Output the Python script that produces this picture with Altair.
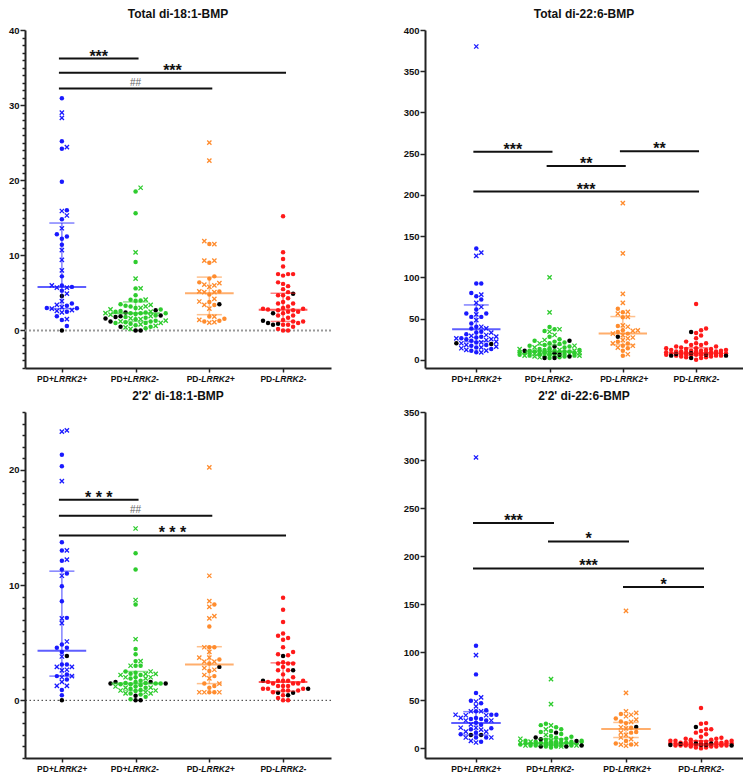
import altair as alt
import pandas as pd
import numpy as np

GROUPS = ["PD+LRRK2+", "PD+LRRK2-", "PD-LRRK2+", "PD-LRRK2-"]
COLORS = ["#1a1aff", "#2ecc2e", "#ff8c2e", "#ff1a1a"]
TITLES = ["Total di-18:1-BMP", "Total di-22:6-BMP", "2'2' di-18:1-BMP", "2'2' di-22:6-BMP"]

# ---------------- Panel 1: Total di-18:1-BMP ----------------
T18_DOTS = [
    [30.9, 25.2, 24.2, 19.8, 16.0, 14.8, 12.8, 12.5, 12.2, 11.4, 7.2, 6.0, 5.8, 5.3, 3.6, 3.3, 3.0, 2.95, 2.5, 1.9, 1.4, 0.6],
    [18.5, 15.6, 9.1, 5.6, 4.7, 4.1, 4.0, 3.95, 3.5, 3.3, 3.2, 3.0, 2.8, 2.6, 2.5, 2.4, 2.3, 2.3, 2.3, 2.2, 2.0, 1.8, 1.7, 1.5,
     1.3, 1.2, 1.1, 1.0, 1.0, 0.9, 0.7, 0.5, 0.3],
    [11.5, 9.0, 7.2, 6.9, 6.4, 5.2, 4.8, 3.8, 3.4, 1.85, 1.55, 1.3, 1.2],
    [15.2, 10.4, 9.5, 8.5, 7.5, 7.5, 7.5, 7.3, 6.4, 6.2, 5.9, 5.5, 5.1, 4.7, 4.7, 4.3, 3.8, 3.6, 3.6, 3.2, 3.0, 2.9, 2.9,
     2.8, 2.7, 2.7, 2.5, 2.5, 2.3, 2.0, 2.0, 1.7, 1.4, 1.2, 1.2, 1.0, 0.75, 0.75, 0.5, 0.2, 0.0, 0.0],
]
T18_CROSSES = [
    [29.0, 28.3, 24.4, 15.9, 15.3, 13.6, 10.7, 9.4, 8.0, 6.0, 5.7, 5.7, 4.9, 3.9, 3.4, 3.1, 2.9, 2.7, 2.6, 2.4, 1.5],
    [19.0, 10.4, 6.9, 5.6, 4.1, 3.4, 3.2, 3.0, 2.8, 2.5, 2.3, 2.1, 1.9, 1.6, 1.5, 1.3, 1.2, 1.0, 0.8, 0.6, 0.4, 0.2],
    [25.0, 22.6, 11.9, 11.5, 9.3, 9.3, 6.3, 6.1, 6.0, 5.8, 5.2, 5.1, 5.1, 4.2, 3.85, 3.4, 2.9, 1.85, 1.4, 1.1, 1.05],
    [],
]
T18_BLACK = [[4.6, 0.0], [2.7, 2.4, 2.0, 1.9, 1.8, 1.6, 1.2, 0.5, 0.0, 0.0], [3.5], [4.9, 2.3, 1.3, 1.0, 0.75, 0.9]]
T18_MEDIAN = [5.8, 2.3, 4.95, 2.75]
T18_Q1 = [2.9, 1.2, 2.1, 1.2]
T18_Q3 = [14.3, 3.8, 7.1, 4.95]
T18_SIG_FROM = [0, 0, 0]
T18_SIG_TO = [1, 3, 2]
T18_SIG_LEVEL = [36.2, 34.3, 32.2]
T18_SIG_LABEL = ["***", "***", "##"]

# ---------------- Panel 2: Total di-22:6-BMP ----------------
T22_DOTS = [
    [135, 92.5, 92.5, 81, 77, 73, 61, 56, 56, 52, 52, 44, 40, 38, 34, 33, 31, 28, 27, 26, 25, 23, 21, 18, 17, 15, 13, 11, 9],
    [39.7, 37, 35, 28, 25, 23, 22, 21, 20, 19, 18, 17, 16, 15, 14, 13, 12, 12, 11, 11, 10, 10, 10, 9, 9, 9, 8, 8, 8, 7,
     7, 6, 6, 5, 5, 4, 3, 2],
    [62, 57.5, 51.6, 41, 35.7, 33.7, 31.7, 21.8, 19.8, 17, 13.9, 11, 4.8],
    [67.5, 38, 35.7, 32.5, 29.4, 26.2, 22, 20, 20, 18, 18, 16, 16, 15, 14, 14, 13, 13, 12, 12, 12, 11, 11, 11, 10, 10, 10,
     10, 9, 9, 9, 9, 8, 8, 8, 8, 8, 7, 7, 7, 7, 6, 6, 6, 6, 5, 5, 5, 4, 4, 3, 3, 2, 0],
]
T22_CROSSES = [
    [380, 130, 126, 79, 69, 64, 55, 48, 40, 38, 33, 30, 29, 28, 26, 25, 24, 22, 21, 20, 18, 16, 15, 14, 12, 11, 9],
    [100, 57.5, 37, 34, 30, 24, 20, 17, 15, 13, 12, 11, 10, 9, 8, 8, 7, 7, 6, 6, 5, 5, 4, 3],
    [190, 129, 80, 69, 58, 56, 52, 41.7, 40, 35.7, 35, 31.7, 29.8, 27, 26, 23.8, 19.8, 17, 14.7, 6.7],
    [],
]
T22_BLACK = [[20, 19], [23, 16, 11, 8, 6, 4, 2, 2], [27.8], [33.7, 8, 7, 6, 5, 5, 2]]
T22_MEDIAN = [37, 10, 31.7, 8]
T22_Q1 = [22, 6, 18.3, 5.5]
T22_Q3 = [66.5, 18, 52.4, 14.5]
T22_SIG_FROM = [0, 1, 2, 0]
T22_SIG_TO = [1, 2, 3, 3]
T22_SIG_LEVEL = [252.4, 235, 253, 204]
T22_SIG_LABEL = ["***", "**", "**", "***"]

# ---------------- Panel 3: 2'2' di-18:1-BMP ----------------
S18_DOTS = [
    [21.3, 20.3, 13.7, 13.0, 12.1, 11.35, 11.0, 9.9, 8.6, 7.15, 4.85, 4.55, 4.55, 4.2, 3.1, 3.1, 2.25, 2.1, 1.8, 0.9, 0.45],
    [12.75, 11.35, 8.3, 4.45, 4.0, 3.4, 3.0, 3.0, 2.5, 2.4, 2.3, 2.2, 2.0, 1.9, 1.7, 1.6, 1.5, 1.5, 1.45, 1.45, 1.4, 1.4,
     1.3, 1.2, 1.1, 1.0, 0.9, 0.8, 0.6, 0.5, 0.3, 0.1],
    [8.3, 6.4, 4.6, 4.6, 3.55, 3.2, 2.55, 2.1, 1.45, 1.25, 1.1, 0.7, 0.7],
    [8.9, 7.85, 6.8, 5.8, 5.6, 5.4, 5.25, 4.6, 4.2, 4.0, 3.9, 3.3, 3.2, 3.2, 3.2, 2.9, 2.6, 2.6, 2.25, 2.0, 1.7, 1.7,
     1.7, 1.7, 1.6, 1.45, 1.45, 1.45, 1.25, 1.25, 1.25, 1.0, 1.0, 1.0, 0.85, 0.85, 0.85, 0.7, 0.45, 0.2, 0.0, 0.0],
]
S18_CROSSES = [
    [23.3, 23.4, 19.0, 13.0, 12.2, 10.8, 7.1, 6.7, 5.1, 3.8, 2.9, 2.9, 2.65, 2.6, 2.1, 2.0, 1.6, 1.25, 1.25],
    [14.9, 8.7, 5.3, 3.4, 3.0, 2.5, 2.3, 2.3, 2.2, 2.0, 2.0, 1.9, 1.2, 1.1, 1.1, 0.85, 0.85, 0.6, 0.6, 0.7],
    [20.2, 10.8, 8.6, 8.1, 7.3, 7.1, 4.6, 4.2, 3.7, 3.7, 3.35, 3.35, 2.8, 2.65, 2.2, 1.9, 1.45, 0.7, 0.7, 0.7],
    [],
]
S18_BLACK = [[3.85, 0.0], [1.6, 1.6, 1.45, 1.45, 0.4, 0.0, 0.0], [2.9], [3.85, 2.6, 1.7, 1.0, 0.65, 0.65, 0.45]]
S18_MEDIAN = [4.3, 1.45, 3.1, 1.6]
S18_Q1 = [2.1, 0.85, 1.45, 0.8]
S18_Q3 = [11.2, 2.5, 4.65, 3.25]
S18_SIG_FROM = [0, 0, 0]
S18_SIG_TO = [1, 2, 3]
S18_SIG_LEVEL = [17.4, 16.0, 14.3]
S18_SIG_LABEL = ["* * *", "##", "* * *"]

# ---------------- Panel 4: 2'2' di-22:6-BMP ----------------
S22_DOTS = [
    [106.8, 77, 57.7, 49.5, 47, 39.6, 38.6, 35, 35, 31.7, 30.5, 30.5, 29, 26.6, 24.5, 21, 19.8, 16.4, 14.7, 11.3, 11.3, 6.8],
    [25.6, 24.2, 22, 20, 18, 17, 15, 13, 12, 11, 10, 9, 9, 8, 8, 7, 7, 7, 6, 6, 6, 6, 5, 5, 5, 5, 5, 4, 4, 4, 4, 3, 3, 3,
     2, 2, 1],
    [35.8, 31, 28, 26.3, 21.5, 17, 16.4, 7.8, 5.1, 4.0],
    [42, 26.3, 25.6, 19.8, 19.8, 18, 16.4, 14.7, 12, 11, 10, 10, 9, 9, 8, 8, 8, 7, 7, 7, 7, 6, 6, 6, 6, 6, 5, 5, 5, 5, 5,
     5, 4, 4, 4, 4, 4, 4, 3, 3, 3, 3, 3, 2, 2, 2, 1, 1, 0],
]
S22_CROSSES = [
    [302.7, 97, 53, 48.8, 43.7, 38.6, 38.6, 35, 34.5, 34.5, 31.7, 29, 29, 25, 21.5, 21.5, 19.5, 17.4, 17.4, 11.3, 11.3, 7.9, 6.1],
    [72, 46, 23.9, 19.8, 14, 10, 8, 7, 6, 6, 5, 5, 5, 4, 4, 4, 3, 3, 2],
    [143, 57.7, 38.6, 36.9, 35, 33.4, 30, 27.6, 22, 20.8, 16.4, 14, 11.3, 9.6, 4.4, 4.0, 2.7],
    [],
]
S22_BLACK = [[14, 14], [16.4, 11.3, 9.6, 7.8, 3, 2, 2], [22.2], [22.2, 5.1, 4.5, 3.5, 3, 5, 3.5, 3.5]]
S22_MEDIAN = [26.3, 5, 20.1, 4.4]
S22_Q1 = [14, 3, 11.3, 2.8]
S22_Q3 = [38.2, 10, 27, 8]
S22_SIG_FROM = [0, 1, 0, 2]
S22_SIG_TO = [1, 2, 3, 3]
S22_SIG_LEVEL = [234.4, 215.3, 187.2, 168]
S22_SIG_LABEL = ["***", "*", "***", "*"]

# ---------------- layout ----------------
W_L, W_R = 306, 318
H_T, H_B = 338, 346
GROUP_PX = 73.5
CROSS_PATH = "M-1,-1L1,1M-1,1L1,-1"


def swarm(values, ppu_y, diam=4.6, step=5.0, cap=30.0):
    """Deterministic beeswarm: returns horizontal offsets (group units)."""
    vals = np.asarray(values, dtype=float)
    order = np.argsort(vals, kind="stable")
    placed = []
    offs = np.zeros(len(vals))
    cands = [0.0]
    j = 1
    while j * step <= cap:
        cands += [j * step, -j * step]
        j += 1
    for i in order:
        y = vals[i] * ppu_y
        chosen = None
        best, best_d = 0.0, -1.0
        for c in cands:
            d = min([np.hypot(c - px, y - py) for px, py in placed] or [99.0])
            if d >= diam:
                chosen = c
                break
            if d > best_d:
                best, best_d = c, d
        if chosen is None:
            chosen = best
        placed.append((chosen, y))
        offs[i] = chosen / GROUP_PX
    return offs


def build_points(dots, crosses, blacks, ppu_y):
    rows = []
    for g in range(4):
        vals, kinds = [], []
        for v in dots[g]:
            vals.append(v); kinds.append("dot")
        for v in crosses[g]:
            vals.append(v); kinds.append("cross")
        for v in blacks[g]:
            vals.append(v); kinds.append("black")
        offs = swarm(vals, ppu_y)
        for v, k, o in zip(vals, kinds, offs):
            rows.append({"group": GROUPS[g], "gi": g, "value": v, "kind": k, "xpos": g + o})
    return pd.DataFrame(rows)


def make_panel(title, dots, crosses, blacks, med, q1, q3, sfrom, sto, slevel, slabel,
               ydom, xdom, W, H, left, zero_style=None):
    ppu_y = H / (ydom[1] - ydom[0])
    pts = build_points(dots, crosses, blacks, ppu_y)
    stats = pd.DataFrame({"group": GROUPS, "gi": list(range(4)), "median": med, "q1": q1, "q3": q3})
    sig = pd.DataFrame({"from": sfrom, "to": sto, "level": slevel, "label": slabel})
    labels = pd.DataFrame({"gi": list(range(4)), "pre": [g[:3] for g in GROUPS], "suf": [g[3:] for g in GROUPS]})

    color = alt.Color("group:N", scale=alt.Scale(domain=GROUPS, range=COLORS), legend=None)
    xscale = alt.Scale(domain=xdom, nice=False, zero=False)
    yscale = alt.Scale(domain=ydom, nice=False, zero=False)
    xaxis = alt.Axis(values=[0, 1, 2, 3], labels=False, title=None, grid=False,
                     tickSize=4, tickWidth=1.5, domainWidth=2, domainColor="#222", tickColor="#222")
    if left:
        yaxis = alt.Axis(values=list(range(int(ydom[0]), int(ydom[1]) + 1)),
                         labelExpr="datum.value >= 0 && datum.value % 10 === 0 ? datum.label : ''",
                         tickSize={"condition": {"test": "datum.value % 10 === 0", "value": 5}, "value": 3},
                         labelOverlap=False, title=None, grid=False, tickWidth=1.5, domainWidth=2,
                         domainColor="#222", tickColor="#222", labelFontWeight="bold", labelFontSize=9.5,
                         labelColor="#111", labelPadding=1)
    else:
        yaxis = alt.Axis(values=list(range(0, int(ydom[1]) + 1, 50)), title=None, grid=False, tickSize=5,
                         tickWidth=1.5, domainWidth=2, domainColor="#222", tickColor="#222",
                         labelFontWeight="bold", labelFontSize=9.5, labelColor="#111", labelPadding=1)

    X = lambda f: alt.X(f, scale=xscale, axis=xaxis)
    Y = lambda f: alt.Y(f, scale=yscale, axis=yaxis)

    base = alt.Chart(pts)
    dots_l = base.transform_filter("datum.kind === 'dot'").mark_circle(size=20, opacity=1).encode(
        x=X("xpos:Q"), y=Y("value:Q"), color=color)
    cross_l = base.transform_filter("datum.kind === 'cross'").mark_point(
        shape=CROSS_PATH, size=18, filled=False, strokeWidth=1.3, opacity=1).encode(
        x=X("xpos:Q"), y=Y("value:Q"), color=color)
    black_l = base.transform_filter("datum.kind === 'black'").mark_circle(size=20, color="black", opacity=1).encode(
        x=X("xpos:Q"), y=Y("value:Q"))

    sb = alt.Chart(stats)
    med_l = sb.transform_calculate(a="datum.gi - 0.33", b="datum.gi + 0.33").mark_rule(
        strokeWidth=2, opacity=0.7).encode(x=X("a:Q"), x2="b:Q", y=Y("median:Q"), color=color)
    iqr_l = sb.mark_rule(strokeWidth=1.5, opacity=0.55).encode(
        x=X("gi:Q"), y=Y("q1:Q"), y2="q3:Q", color=color)
    capl = sb.transform_calculate(a="datum.gi - 0.17", b="datum.gi + 0.17")
    cap1 = capl.mark_rule(strokeWidth=1.5, opacity=0.55).encode(
        x=X("a:Q"), x2="b:Q", y=Y("q1:Q"), color=color)
    cap3 = capl.mark_rule(strokeWidth=1.5, opacity=0.55).encode(
        x=X("a:Q"), x2="b:Q", y=Y("q3:Q"), color=color)

    sg = alt.Chart(sig).transform_calculate(a="datum.from - 0.04", b="datum.to + 0.04",
                                             mid="(datum.from + datum.to) / 2")
    sig_rule = sg.mark_rule(strokeWidth=2, color="#111").encode(
        x=X("a:Q"), x2="b:Q", y=Y("level:Q"))
    star_t = sg.transform_filter("indexof(datum.label, '#') < 0").mark_text(
        fontSize=16, fontWeight="bold", baseline="alphabetic", dy=3, color="#111").encode(
        x=X("mid:Q"), y=Y("level:Q"), text="label:N")
    hash_t = sg.transform_filter("indexof(datum.label, '#') >= 0").mark_text(
        fontSize=10, baseline="alphabetic", dy=-3, color="#666").encode(
        x=X("mid:Q"), y=Y("level:Q"), text="label:N")

    lb = alt.Chart(labels)
    pre_t = lb.mark_text(align="right", baseline="top", fontSize=8.5, fontWeight="bold", dx=-8,
                         color="#111").encode(x=X("gi:Q"), y=alt.value(H + 7), text="pre:N")
    suf_t = lb.mark_text(align="left", baseline="top", fontSize=8.5, fontWeight="bold", fontStyle="italic",
                         dx=-8, color="#111").encode(x=X("gi:Q"), y=alt.value(H + 7), text="suf:N")

    layers = []
    if left:
        zero = alt.Chart(pd.DataFrame({"z": [0]})).mark_rule(**zero_style).encode(y=Y("z:Q"))
        layers.append(zero)
    layers += [dots_l, cross_l, black_l, iqr_l, cap1, cap3, med_l, sig_rule, star_t, hash_t, pre_t, suf_t]
    return alt.layer(*layers).properties(
        width=W, height=H,
        title=alt.Title(title, fontSize=12, fontWeight="bold", anchor="middle", offset=4, color="#111"))


p1 = make_panel(TITLES[0], T18_DOTS, T18_CROSSES, T18_BLACK, T18_MEDIAN, T18_Q1, T18_Q3,
                T18_SIG_FROM, T18_SIG_TO, T18_SIG_LEVEL, T18_SIG_LABEL, [-5, 40], [-0.5, 3.65], W_L, H_T, True,
                zero_style=dict(color="#999", strokeDash=[2, 2], strokeWidth=2))
p2 = make_panel(TITLES[1], T22_DOTS, T22_CROSSES, T22_BLACK, T22_MEDIAN, T22_Q1, T22_Q3,
                T22_SIG_FROM, T22_SIG_TO, T22_SIG_LEVEL, T22_SIG_LABEL, [-10, 400], [-0.7, 3.64], W_R, H_T, False)
p3 = make_panel(TITLES[2], S18_DOTS, S18_CROSSES, S18_BLACK, S18_MEDIAN, S18_Q1, S18_Q3,
                S18_SIG_FROM, S18_SIG_TO, S18_SIG_LEVEL, S18_SIG_LABEL, [-5, 25], [-0.5, 3.65], W_L, H_B, True,
                zero_style=dict(color="#333", strokeDash=[1.5, 2.5], strokeWidth=1))
p4 = make_panel(TITLES[3], S22_DOTS, S22_CROSSES, S22_BLACK, S22_MEDIAN, S22_Q1, S22_Q3,
                S22_SIG_FROM, S22_SIG_TO, S22_SIG_LEVEL, S22_SIG_LABEL, [-10, 350], [-0.68, 3.56], W_R, H_B, False)

top = alt.hconcat(p1, p2, spacing=71)
bottom = alt.hconcat(p3, p4, spacing=71)
chart = alt.vconcat(top, bottom, spacing=6).properties(
    padding={"left": 0, "right": 0, "top": 0, "bottom": 0}
).configure(font="Liberation Sans").configure_view(strokeWidth=0)

chart.save("out.html", embed_options={"renderer": "svg", "actions": False})
